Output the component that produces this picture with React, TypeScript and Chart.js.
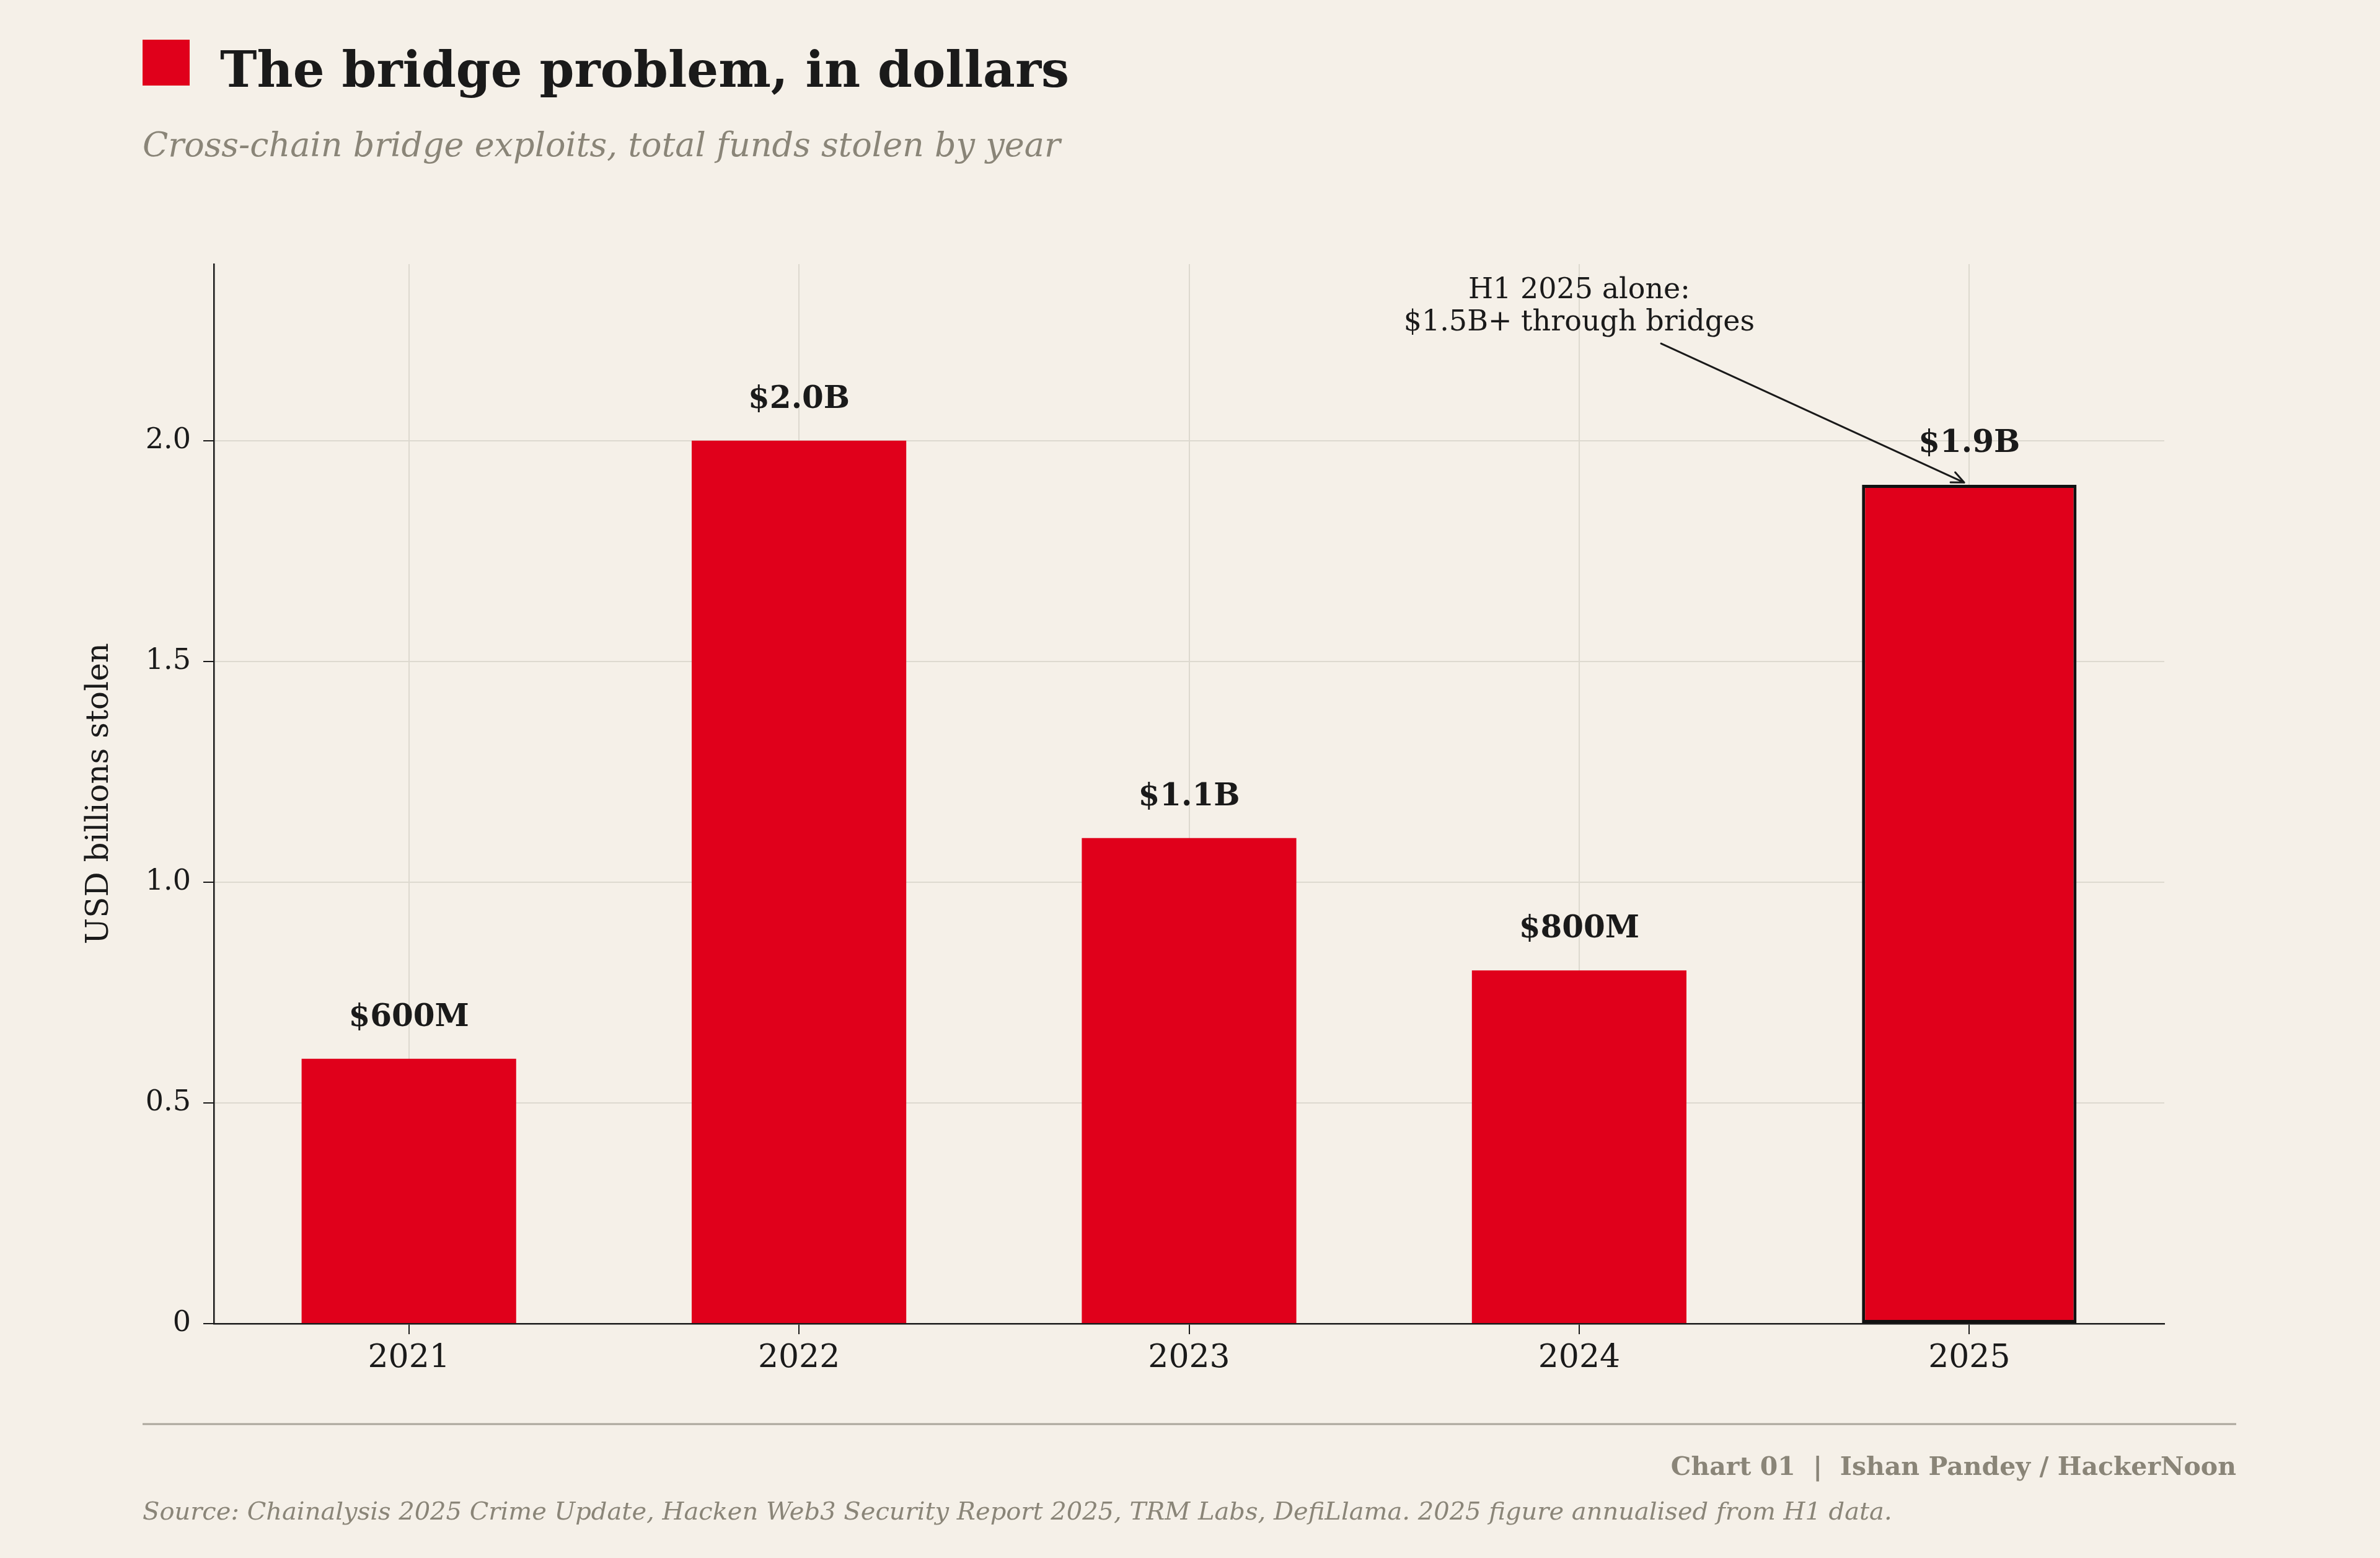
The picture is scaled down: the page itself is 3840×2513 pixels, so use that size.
import React, { useEffect, useRef } from 'react';
import { Chart, registerables } from 'chart.js';

Chart.register(...registerables);

// ---- data ----
const years = ['2021', '2022', '2023', '2024', '2025'];
const stolenBillions = [0.6, 2.0, 1.1, 0.8, 1.9];
const valueLabels = ['$600M', '$2.0B', '$1.1B', '$800M', '$1.9B'];
const yTickValues = [0, 0.5, 1.0, 1.5, 2.0];
const yTickLabels = ['0', '0.5', '1.0', '1.5', '2.0'];
const highlightYear = '2025';
const annotationLines = ['H1 2025 alone:', '$1.5B+ through bridges'];

const titleText = 'The bridge problem, in dollars';
const subtitleText = 'Cross-chain bridge exploits, total funds stolen by year';
const yTitleText = 'USD billions stolen';
const creditText = 'Chart 01  |  Ishan Pandey / HackerNoon';
const sourceText =
  'Source: Chainalysis 2025 Crime Update, Hacken Web3 Security Report 2025, TRM Labs, DefiLlama. 2025 figure annualised from H1 data.';

// ---- style ----
const W = 3840;
const H = 2513;
const BG = '#F5F0E8';
const RED = '#E0001B';
const INK = '#1A1A1A';
const MUTED = '#8A8578';
const GRID = '#DDD9CF';
const RULE = '#ABA69C';
const FONT = "'DejaVu Serif', serif";

export default function App() {
  const ref = useRef<HTMLCanvasElement>(null);

  useEffect(() => {
    const canvas = ref.current;
    if (!canvas) return;

    const decor = {
      id: 'decor',
      beforeDraw(chart: any) {
        const ctx = chart.ctx;
        ctx.save();
        ctx.fillStyle = BG;
        ctx.fillRect(0, 0, W, H);
        ctx.restore();
      },
      afterDatasetsDraw(chart: any) {
        const ctx = chart.ctx;
        const xs = chart.scales.x;
        const ys = chart.scales.y;
        const meta = chart.getDatasetMeta(0);
        ctx.save();
        // value labels
        ctx.fillStyle = INK;
        ctx.font = `bold 50px ${FONT}`;
        ctx.textAlign = 'center';
        ctx.textBaseline = 'alphabetic';
        meta.data.forEach((bar: any, i: number) => {
          ctx.fillText(valueLabels[i], bar.x, bar.y - 53);
        });
        // annotation text
        const ax = xs.getPixelForValue(3);
        const ay = ys.getPixelForValue(2.25);
        ctx.font = `46px ${FONT}`;
        ctx.fillText(annotationLines[0], ax, ay - 52);
        ctx.fillText(annotationLines[1], ax, ay);
        // arrow
        const sx = xs.getPixelForValue(3.21);
        const sy = ys.getPixelForValue(2.22);
        const tx0 = xs.getPixelForValue(4);
        const ty0 = ys.getPixelForValue(1.9);
        const dx = tx0 - sx;
        const dy = ty0 - sy;
        const len = Math.hypot(dx, dy);
        const ux = dx / len;
        const uy = dy / len;
        const tx = tx0 - ux * 9;
        const ty = ty0 - uy * 9;
        ctx.strokeStyle = INK;
        ctx.lineWidth = 3;
        ctx.lineCap = 'round';
        ctx.beginPath();
        ctx.moveTo(sx, sy);
        ctx.lineTo(tx, ty);
        const ang = (24 * Math.PI) / 180;
        const hl = 22;
        for (const s of [1, -1]) {
          const c = Math.cos(s * ang);
          const sn = Math.sin(s * ang);
          const bx = -ux * c + uy * sn;
          const by = -ux * sn - uy * c;
          ctx.moveTo(tx, ty);
          ctx.lineTo(tx + bx * hl, ty + by * hl);
        }
        ctx.stroke();
        ctx.restore();
      },
      afterDraw(chart: any) {
        const ctx = chart.ctx;
        ctx.save();
        // title block
        ctx.fillStyle = RED;
        ctx.fillRect(230, 64, 76, 74);
        ctx.fillStyle = INK;
        ctx.textAlign = 'left';
        ctx.textBaseline = 'alphabetic';
        ctx.font = `bold 80px ${FONT}`;
        ctx.fillText(titleText, 355, 140);
        ctx.fillStyle = MUTED;
        ctx.font = `italic 54px ${FONT}`;
        ctx.fillText(subtitleText, 230, 252);
        // y-axis title
        ctx.save();
        ctx.translate(174, 1280);
        ctx.rotate(-Math.PI / 2);
        ctx.textAlign = 'center';
        ctx.fillStyle = INK;
        ctx.font = `50px ${FONT}`;
        ctx.fillText(yTitleText, 0, 0);
        ctx.restore();
        // footer
        ctx.strokeStyle = RULE;
        ctx.lineWidth = 3;
        ctx.beginPath();
        ctx.moveTo(230, 2297);
        ctx.lineTo(3608, 2297);
        ctx.stroke();
        ctx.fillStyle = MUTED;
        ctx.textAlign = 'right';
        ctx.font = `bold 41px ${FONT}`;
        ctx.fillText(creditText, 3608, 2379);
        ctx.textAlign = 'left';
        ctx.font = `italic 40px ${FONT}`;
        ctx.fillText(sourceText, 230, 2451);
        ctx.restore();
      },
    };

    const chart = new Chart(canvas, {
      type: 'bar',
      data: {
        labels: years,
        datasets: [
          {
            data: stolenBillions,
            backgroundColor: RED,
            borderColor: years.map((y) => (y === highlightYear ? '#111111' : 'rgba(0,0,0,0)')),
            borderWidth: years.map((y) => (y === highlightYear ? 5 : 0)),
            borderSkipped: false,
            barPercentage: 0.55,
            categoryPercentage: 1,
          },
        ],
      },
      options: {
        responsive: false,
        animation: false,
        devicePixelRatio: 1,
        layout: { padding: { left: 0, top: 426, right: 348, bottom: 0 } },
        plugins: {
          legend: { display: false },
          tooltip: { enabled: false },
          title: { display: false },
        },
        scales: {
          x: {
            offset: true,
            grid: {
              offset: false,
              color: GRID,
              lineWidth: 2,
              tickColor: INK,
              tickLength: 17,
              tickWidth: 2,
            },
            border: { display: true, color: INK, width: 2.5 },
            ticks: {
              color: INK,
              font: { family: FONT, size: 52 },
              padding: 8,
            },
            afterFit: (scale: any) => {
              scale.height = 378;
            },
          },
          y: {
            min: 0,
            max: 2.4,
            grid: {
              color: GRID,
              lineWidth: 2,
              tickColor: INK,
              tickLength: 17,
              tickWidth: 2,
            },
            border: { display: true, color: INK, width: 2.5 },
            afterBuildTicks: (scale: any) => {
              scale.ticks = yTickValues.map((v) => ({ value: v }));
            },
            ticks: {
              color: INK,
              font: { family: FONT, size: 46 },
              padding: 20,
              callback: (value: any) => {
                const i = yTickValues.findIndex((v) => Math.abs(v - Number(value)) < 1e-9);
                return i >= 0 ? yTickLabels[i] : '';
              },
            },
            afterFit: (scale: any) => {
              scale.width = 345;
            },
          },
        },
      },
      plugins: [decor],
    } as any);

    return () => chart.destroy();
  }, []);

  return (
    <div style={{ position: 'absolute', left: 0, top: 0, width: W, height: H, background: BG }}>
      <canvas ref={ref} width={W} height={H} style={{ display: 'block', width: W, height: H }} />
    </div>
  );
}
